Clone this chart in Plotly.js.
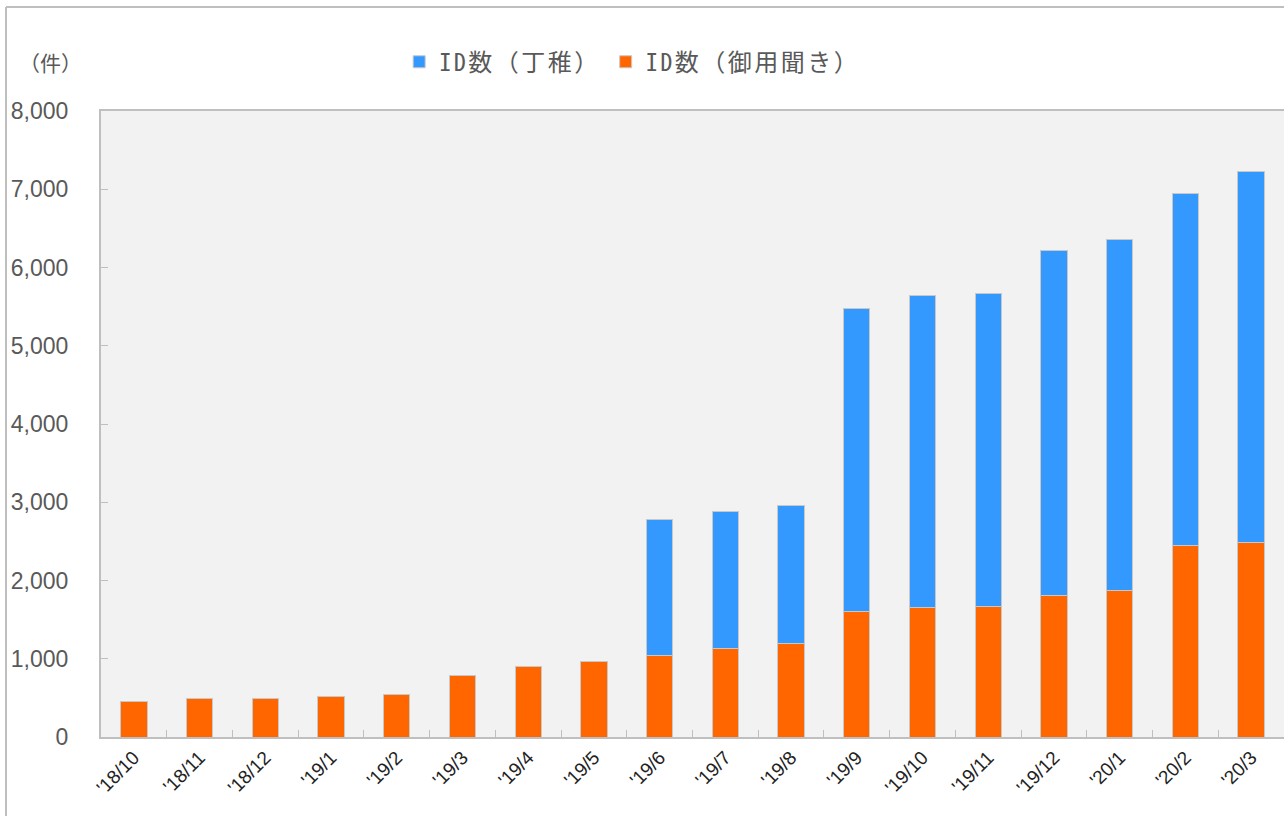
<!DOCTYPE html>
<html>
<head>
<meta charset="utf-8">
<script src="https://cdn.plot.ly/plotly-3.0.1.min.js"></script>
<style>
html,body{margin:0;padding:0;background:#fff;}
#chart{width:1284px;height:816px;}
.legendtext{letter-spacing:2.5px;}
</style>
</head>
<body>
<div id="chart"></div>
<script>
const categories = ["'18/10","'18/11","'18/12","'19/1","'19/2","'19/3","'19/4","'19/5","'19/6","'19/7","'19/8","'19/9","'19/10","'19/11","'19/12","'20/1","'20/2","'20/3"];
const goyoukiki = [460, 498, 498, 524, 537, 780, 895, 971, 1044, 1128, 1198, 1606, 1657, 1674, 1802, 1866, 2450, 2483];
const decchi = [null, null, null, null, null, null, null, null, 1742, 1751, 1758, 3872, 3979, 3996, 4418, 4498, 4498, 4750];
const yTicks = [0, 1000, 2000, 3000, 4000, 5000, 6000, 7000, 8000];
const seriesNames = ["ID数（御用聞き）", "ID数（丁稚）"];
const unitLabel = "（件）";

const frameColor = "#bfbfbf";
const lineStyle = {color: "#c8c8c8", width: 1};

const traces = [
  {type: "bar", name: seriesNames[0], x: categories, y: goyoukiki,
   marker: {color: "#ff6600", line: lineStyle}},
  {type: "bar", name: seriesNames[1], x: categories, y: decchi,
   marker: {color: "#3399ff", line: lineStyle}}
];

const layout = {
  width: 1284, height: 816,
  margin: {l: 101, r: 0, t: 111, b: 79},
  paper_bgcolor: "#ffffff",
  plot_bgcolor: "#f2f2f2",
  barmode: "stack",
  bargap: 0.6,
  showlegend: true,
  legend: {
    orientation: "h", traceorder: "reversed",
    x: 0.449, xanchor: "center", y: 1.078, yanchor: "middle",
    font: {family: "'Noto Sans Mono CJK JP', 'Noto Sans CJK JP', sans-serif", size: 24, color: "#595959"},
    itemwidth: 30, bgcolor: "rgba(0,0,0,0)"
  },
  xaxis: {
    type: "category",
    tickangle: -45,
    tickfont: {family: "Arial, 'Liberation Sans', sans-serif", size: 19, color: "#222222"},
    showline: true, linecolor: frameColor, linewidth: 2, mirror: true,
    ticks: "inside", tickson: "boundaries", ticklen: 7, tickcolor: frameColor, tickwidth: 1,
    showgrid: false, zeroline: false, fixedrange: true
  },
  yaxis: {
    range: [0, 8000],
    tickvals: yTicks,
    tickformat: ",d",
    tickfont: {family: "Arial, 'Liberation Sans', sans-serif", size: 23, color: "#595959"},
    showline: true, linecolor: frameColor, linewidth: 2, mirror: true,
    ticks: "inside", ticklen: 7, tickcolor: frameColor, tickwidth: 1,
    ticklabelstandoff: 26,
    showgrid: false, zeroline: false, fixedrange: true
  },
  annotations: [
    {text: unitLabel, xref: "paper", yref: "paper", x: -0.0423, y: 1.078,
     xanchor: "center", yanchor: "middle", showarrow: false,
     font: {family: "'Noto Sans CJK JP', sans-serif", size: 21, color: "#595959"}}
  ],
  shapes: [
    {type: "line", xref: "paper", yref: "paper", x0: -0.0803, x1: -0.0803, y0: -0.2, y1: 1.1662,
     line: {color: frameColor, width: 2}},
    {type: "line", xref: "paper", yref: "paper", x0: -0.0803, x1: 1.05, y0: 1.1662, y1: 1.1662,
     line: {color: frameColor, width: 2}}
  ]
};

Plotly.newPlot("chart", traces, layout, {displayModeBar: false, staticPlot: true});
</script>
</body>
</html>
